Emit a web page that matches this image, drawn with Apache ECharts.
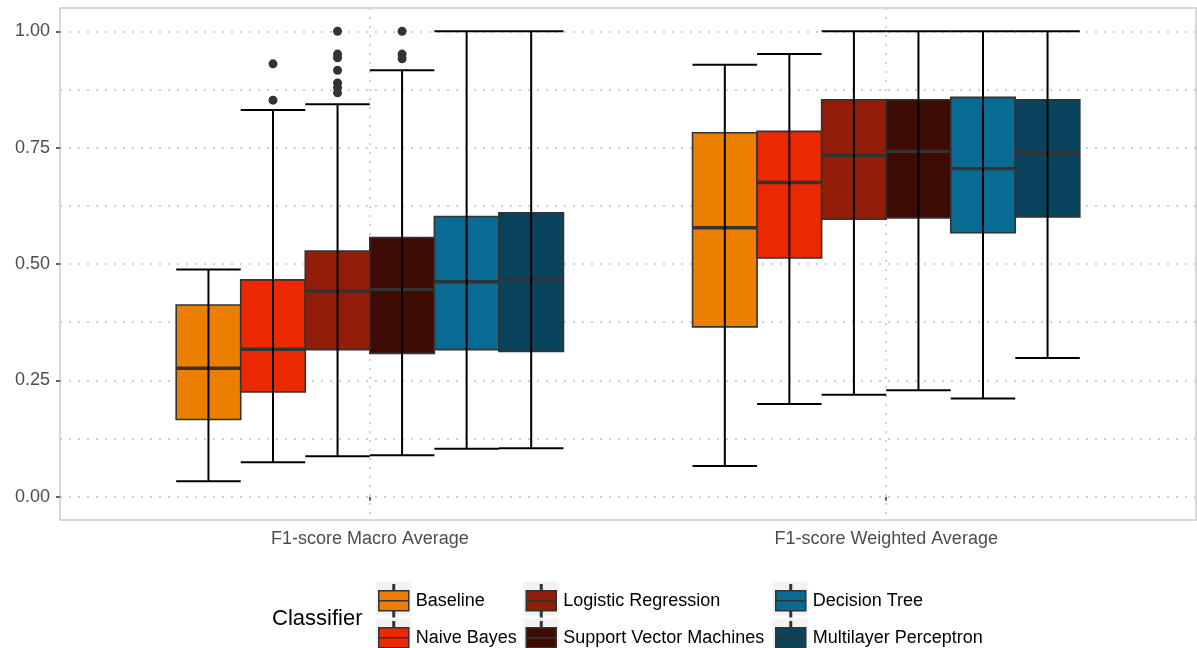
<!DOCTYPE html>
<html>
<head>
<meta charset="utf-8">
<script src="https://cdn.jsdelivr.net/npm/echarts@6/dist/echarts.min.js"></script>
<style>
  html, body { margin: 0; padding: 0; background: #fff; }
  #chart { width: 1197px; height: 648px; }
</style>
</head>
<body>
<div id="chart"></div>
<script>
// groups on the x axis
var groups = ['F1-score Macro Average', 'F1-score Weighted Average'];
var classifiers = ['Baseline', 'Naive Bayes', 'Logistic Regression', 'Support Vector Machines', 'Decision Tree', 'Multilayer Perceptron'];
var colors = ['#ED7F00', '#EA2900', '#921E0A', '#3E0C04', '#086B93', '#0A435C'];

// [lower whisker, Q1, median, Q3, upper whisker] per group
var baseline = [[0.033, 0.166, 0.276, 0.412, 0.488], [0.066, 0.365, 0.578, 0.782, 0.928]];
var naiveBayes = [[0.074, 0.225, 0.317, 0.466, 0.831], [0.199, 0.513, 0.675, 0.785, 0.951]];
var logReg = [[0.087, 0.316, 0.442, 0.528, 0.843], [0.219, 0.596, 0.733, 0.853, 1.0]];
var svm = [[0.089, 0.308, 0.445, 0.557, 0.916], [0.229, 0.599, 0.742, 0.853, 1.0]];
var decTree = [[0.103, 0.316, 0.462, 0.602, 1.0], [0.211, 0.567, 0.705, 0.858, 1.0]];
var mlp = [[0.104, 0.312, 0.467, 0.610, 1.0], [0.298, 0.601, 0.738, 0.853, 1.0]];

// outliers per classifier, per group
var outliers = [
  [[], []],
  [[0.930, 0.852], []],
  [[1.0, 0.951, 0.943, 0.916, 0.889, 0.879, 0.868], []],
  [[1.0, 0.951, 0.941], []],
  [[], []],
  [[], []]
];

var yLabels = [0, 0.25, 0.5, 0.75, 1];
var yGrid = [0, 0.125, 0.25, 0.375, 0.5, 0.625, 0.75, 0.875, 1];

var stats = [baseline, naiveBayes, logReg, svm, decTree, mlp];
var dodge = 0.75;
var boxW = dodge / classifiers.length;
var FONT = '"Liberation Sans", Arial, sans-serif';

function xPos(g, k) {
  return g + 1 + (k - (classifiers.length - 1) / 2) * boxW;
}

function renderBox(params, api) {
  var x = api.value(0);
  var h = boxW / 2;
  var lo = api.coord([x, api.value(1)]);
  var q1L = api.coord([x - h, api.value(2)]);
  var q3R = api.coord([x + h, api.value(4)]);
  var medL = api.coord([x - h, api.value(3)]);
  var medR = api.coord([x + h, api.value(3)]);
  var hi = api.coord([x, api.value(5)]);
  var capL = api.coord([x - h, api.value(1)])[0];
  var capR = api.coord([x + h, api.value(1)])[0];
  var color = api.visual('color');
  return {
    type: 'group',
    children: [
      {
        type: 'rect',
        shape: { x: q1L[0], y: q3R[1], width: q3R[0] - q1L[0], height: q1L[1] - q3R[1] },
        style: { fill: color, stroke: '#333333', lineWidth: 1.6 }
      },
      {
        type: 'line',
        shape: { x1: medL[0], y1: medL[1], x2: medR[0], y2: medR[1] },
        style: { stroke: '#333333', lineWidth: 3.4 }
      },
      {
        type: 'line',
        shape: { x1: lo[0], y1: lo[1], x2: hi[0], y2: hi[1] },
        style: { stroke: '#000', lineWidth: 2 }
      },
      {
        type: 'line',
        shape: { x1: capL, y1: lo[1], x2: capR, y2: lo[1] },
        style: { stroke: '#000', lineWidth: 2 }
      },
      {
        type: 'line',
        shape: { x1: capL, y1: hi[1], x2: capR, y2: hi[1] },
        style: { stroke: '#000', lineWidth: 2 }
      }
    ]
  };
}

var series = classifiers.map(function (name, k) {
  return {
    name: name,
    type: 'custom',
    renderItem: renderBox,
    itemStyle: { color: colors[k], borderColor: '#333333', borderWidth: 1.5 },
    encode: { x: 0, y: [1, 2, 3, 4, 5] },
    data: stats[k].map(function (s, g) {
      return [xPos(g, k)].concat(s);
    }),
    z: 3
  };
});

var outlierPts = [];
outliers.forEach(function (byGroup, k) {
  byGroup.forEach(function (vals, g) {
    vals.forEach(function (v) { outlierPts.push([xPos(g, k), v]); });
  });
});
series.push({
  name: 'outliers',
  type: 'scatter',
  data: outlierPts,
  symbol: 'circle',
  symbolSize: 9,
  itemStyle: { color: '#333333', opacity: 1 },
  z: 4
});

var keyIcon = 'path://M14.25,0h1.5v6h-1.5z M0,6h30v10h-30z M0,16h30v10h-30z M14.25,26h1.5v6h-1.5z';

function makeLegend(names, left) {
  return {
    orient: 'vertical',
    left: left,
    top: 584,
    height: 90,
    padding: 0,
    itemWidth: 30,
    itemHeight: 32,
    itemGap: 3.4,
    icon: keyIcon,
    data: names,
    itemStyle: { borderColor: '#333333', borderWidth: 1.5 },
    textStyle: { fontFamily: FONT, fontSize: 18, color: '#000', padding: [0, 0, 0, 2] },
    selectedMode: false
  };
}

var keyBg = [];
[376, 523.5, 772.5].forEach(function (lx) {
  [581.5, 618.2].forEach(function (ty) {
    keyBg.push({
      type: 'rect',
      shape: { x: lx, y: ty, width: 35, height: 34 },
      style: { fill: '#f2f2f2' },
      z: 0
    });
  });
});

var chart = echarts.init(document.getElementById('chart'));
chart.setOption({
  animation: false,
  backgroundColor: '#ffffff',
  textStyle: { fontFamily: FONT },
  title: {
    text: 'Classifier',
    left: 267,
    top: 603,
    textStyle: { fontFamily: FONT, fontSize: 22, fontWeight: 'normal', color: '#000' }
  },
  graphic: keyBg,
  legend: [
    makeLegend(classifiers.slice(0, 2), 378),
    makeLegend(classifiers.slice(2, 4), 525.5),
    makeLegend(classifiers.slice(4, 6), 775)
  ],
  grid: {
    left: 60, right: 1, top: 8, bottom: 128,
    show: true, borderColor: '#cccccc', borderWidth: 1.5, backgroundColor: '#fff'
  },
  xAxis: {
    type: 'value',
    min: 0.4,
    max: 2.6,
    axisLine: { show: false },
    axisTick: { show: true, length: 4, customValues: [1, 2], lineStyle: { color: '#333', width: 1.5 } },
    axisLabel: {
      customValues: [1, 2],
      formatter: function (v) { return groups[Math.round(v) - 1]; },
      color: '#4d4d4d', fontSize: 18, fontFamily: FONT, margin: 10
    },
    splitLine: { show: true, lineStyle: { color: '#cfcfcf', width: 2, type: [2, 7] } }
  },
  yAxis: [
    {
      type: 'value',
      min: -0.05,
      max: 1.05,
      axisLine: { show: false },
      axisTick: { show: true, length: 4, customValues: yLabels, lineStyle: { color: '#333', width: 1.5 } },
      axisLabel: {
        customValues: yLabels,
        formatter: function (v) { return v.toFixed(2); },
        color: '#4d4d4d', fontSize: 18, fontFamily: FONT, margin: 10
      },
      splitLine: { show: false }
    },
    {
      type: 'value',
      min: -0.05,
      max: 1.05,
      position: 'right',
      axisLine: { show: false },
      axisTick: { show: false, customValues: yGrid },
      axisLabel: { show: false },
      splitLine: { show: true, lineStyle: { color: '#cfcfcf', width: 2, type: [2, 7] } }
    }
  ],
  series: series
});
</script>
</body>
</html>
